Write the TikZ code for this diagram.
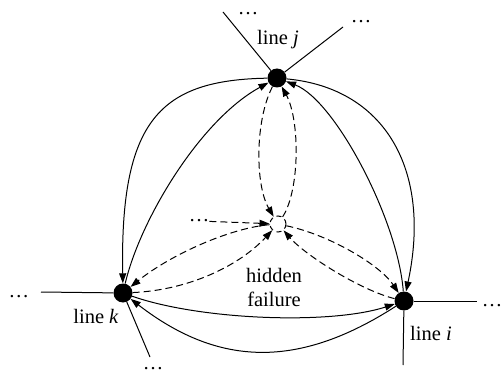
\documentclass[tikz,border=0pt]{standalone}
\usepackage{fontspec}
\setmainfont{Liberation Serif}
\usetikzlibrary{arrows.meta}
\begin{document}
\begin{tikzpicture}[x=1pt,y=-1pt,
  bus/.style={circle,fill=black,inner sep=0pt,minimum size=19pt},
  hub/.style={circle,draw,line width=1pt,dash pattern=on 5pt off 4pt,inner sep=0pt,minimum size=16pt},
  lbl/.style={font=\fontsize{20.5}{22}\selectfont,inner sep=0pt},
  flow/.style={line width=1pt,-{Triangle[length=10pt,width=7pt]}},
  hid/.style={flow,dash pattern=on 7pt off 4pt},
  stub/.style={line width=1pt}]
\useasboundingbox (0,0) rectangle (501,377);

% buses and the hidden-failure hub
\node[bus] (j) at (277,78) {};
\node[bus] (k) at (123,293) {};
\node[bus] (i) at (404,301) {};
\node[hub] (c) at (278,224) {};

% bus labels
\node[lbl,anchor=base] (lj) at (278,45) {line \textit{j}};
\node[lbl,anchor=base] (lk) at (96,323) {line \textit{k}};
\node[lbl,anchor=base] (li) at (431,340) {line \textit{i}};
\node[lbl,anchor=base] (hf1) at (274,282) {hidden};
\node[lbl,anchor=base] (hf2) at (274,306) {failure};

% continuation marks
\node[lbl] (dj1) at (248,14) {…};
\node[lbl] (dj2) at (361,22) {…};
\node[lbl] (dk1) at (19,297) {…};
\node[lbl] (dk2) at (153,369) {…};
\node[lbl] (di1) at (492,306) {…};
\node[lbl] (di2) at (410,380) {…};
\node[lbl] (dc) at (199,221) {…};

% line stubs leaving each bus
\coordinate (j1) at (223,12);
\coordinate (j2) at (343,27);
\coordinate (k1) at (41,292);
\coordinate (k2) at (150,357);
\coordinate (i1) at (477,301);
\coordinate (i2) at (403,365);
\draw[stub] (j) -- (j1);
\draw[stub] (j) -- (j2);
\draw[stub] (k) -- (k1);
\draw[stub] (k) -- (k2);
\draw[stub] (i) -- (i1);
\draw[stub] (i) -- (i2);

% solid interactions between buses
\draw[flow] (j) .. controls (160,80) and (120,120) .. (k);
\draw[flow] (k) .. controls (140,220) and (200,120) .. (j);
\draw[flow] (j) .. controls (385,88) and (432,170) .. (i);
\draw[flow] (i) .. controls (398,220) and (335,100) .. (j);
\draw[flow] (k) .. controls (200,320) and (330,325) .. (i);
\draw[flow] (i) .. controls (300,368) and (220,368) .. (k);

% dashed interactions through the hidden failure
\draw[hid] (j) .. controls (255,120) and (255,185) .. (c);
\draw[hid] (c) .. controls (300,190) and (300,120) .. (j);
\draw[hid] (dc) -- (c);
\draw[hid] (c) .. controls (230,228) and (170,255) .. (k);
\draw[hid] (k) .. controls (190,290) and (240,265) .. (c);
\draw[hid] (c) .. controls (330,235) and (380,265) .. (i);
\draw[hid] (i) .. controls (360,290) and (305,255) .. (c);
\end{tikzpicture}
\end{document}
